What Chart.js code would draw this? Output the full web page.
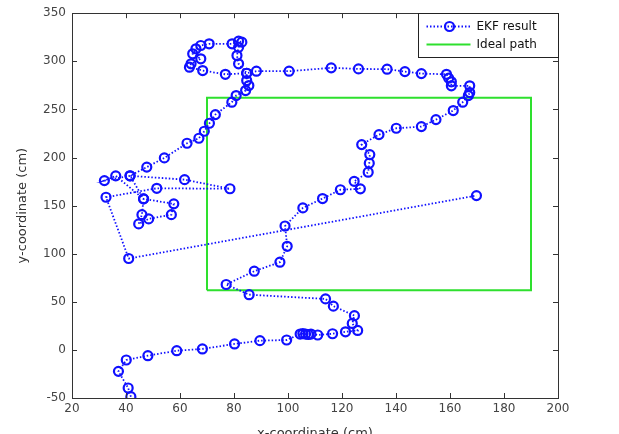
<!DOCTYPE html>
<html>
<head>
<meta charset="utf-8">
<script src="https://cdn.jsdelivr.net/npm/chart.js@4.4.1/dist/chart.umd.min.js"></script>
<style>
  html, body { margin: 0; padding: 0; background: #fff; }
  #wrap { width: 619px; height: 434px; position: relative; }
</style>
</head>
<body>
<div id="wrap"><canvas id="chart"></canvas></div>
<script>
// EKF estimated path (cm), in order along the track
const ekfX = [41.8, 40.8, 37.2, 40.1, 48.1, 58.8, 68.3, 80.2, 89.6, 99.5,
  104.5, 105.5, 106.5, 107.5, 108.5, 111, 116.5, 121.3, 125.8, 123.8,
  124.6, 116.8, 113.9, 85.6, 77.1, 87.5, 97, 99.7, 98.9, 105.5,
  112.8, 119.4, 126.8, 124.5, 129.7, 130.1, 130.3, 127.3, 133.7, 140.1,
  149.4, 154.8, 161.2, 164.7, 166.8, 167.3, 167.3, 160.5, 160.5, 159.5,
  158.7, 149.4, 143.3, 136.7, 126.1, 116, 100.4, 88.3, 84.7, 76.8,
  68.4, 63.5, 64.1, 67.7, 64.7, 65.9, 67.7, 70.8, 79.3, 81.7,
  82.9, 81.7, 81.1, 81.7, 84.7, 84.7, 85.5, 84.3, 80.8, 79.2,
  73.1, 70.9, 69, 67, 62.6, 54.2, 47.7, 41.5, 32, 36.2,
  46.5, 57.7, 56.8, 48.4, 44.7, 45.9, 46.5, 41.5, 61.7, 78.5,
  51.4, 32.6, 41, 169.8];
const ekfY = [-48.6, -39.6, -22.3, -10.5, -6, -0.8, 1, 6.2, 9.6, 10.3,
  16.5, 17, 16.5, 16, 16.5, 15.5, 16.8, 18.8, 20.2, 27.5,
  35.6, 45.5, 53, 57.4, 68, 81.8, 91.2, 107.7, 128.8, 147.6,
  157.3, 166.5, 167.4, 175.2, 184.7, 194, 203, 213.4, 223.8, 230.4,
  232.1, 239.4, 248.8, 257.5, 264.4, 267.5, 274.5, 274.5, 278.7, 282.5,
  286.5, 287.2, 289.3, 291.8, 292.1, 293.2, 289.7, 289.7, 287.6, 286.5,
  290.4, 293.9, 297.4, 302.6, 307.8, 313, 316.4, 318.2, 318.2, 320.9,
  319.9, 314.6, 306, 297.4, 287.6, 280, 274.8, 269.6, 264.4, 257.5,
  244.6, 235.6, 227.3, 220, 214.8, 199.6, 190, 181, 176, 180.9,
  157, 151.8, 140.6, 136.2, 131, 140.6, 157, 181, 177, 167.5,
  168, 158.7, 95, 160.4];

// Ideal rectangular path (cm)
const idealX = [70, 70, 190, 190, 70];
const idealY = [62, 262, 262, 62, 62];

const xTicks = [20, 40, 60, 80, 100, 120, 140, 160, 180, 200];
const yTicks = [-50, 0, 50, 100, 150, 200, 250, 300, 350];
const seriesNames = ['EKF result', 'Ideal path'];

const BLUE = '#1010ff';
const GREEN = '#2ee02e';
const FONT = "'DejaVu Sans', 'Liberation Sans', Arial, sans-serif";

// box, inward ticks (matlab style) and the legend
const framePlugin = {
  id: 'frame',
  afterDraw(chart) {
    const { ctx, chartArea: a, scales } = chart;
    ctx.save();
    ctx.strokeStyle = '#333';
    ctx.lineWidth = 1;
    ctx.strokeRect(Math.round(a.left) + 0.5, Math.round(a.top) + 0.5,
      Math.round(a.right - a.left), Math.round(a.bottom - a.top));
    const len = 5;
    ctx.beginPath();
    xTicks.forEach(v => {
      const px = Math.round(scales.x.getPixelForValue(v)) + 0.5;
      ctx.moveTo(px, a.bottom); ctx.lineTo(px, a.bottom - len);
      ctx.moveTo(px, a.top); ctx.lineTo(px, a.top + len);
    });
    yTicks.forEach(v => {
      const py = Math.round(scales.y.getPixelForValue(v)) + 0.5;
      ctx.moveTo(a.left, py); ctx.lineTo(a.left + len, py);
      ctx.moveTo(a.right, py); ctx.lineTo(a.right - len, py);
    });
    ctx.stroke();

    // legend box in the top right corner
    const w = 140, h = 44;
    const lx = Math.round(a.right - w) + 0.5, ly = Math.round(a.top) + 0.5;
    ctx.fillStyle = '#fff';
    ctx.fillRect(lx, ly, w, h);
    ctx.strokeStyle = '#222';
    ctx.strokeRect(lx, ly, w, h);

    ctx.font = '12px ' + FONT;
    ctx.textBaseline = 'middle';
    ctx.fillStyle = '#111';

    let ry = ly + 13;
    ctx.strokeStyle = BLUE;
    ctx.lineWidth = 1.8;
    ctx.setLineDash([1.5, 2]);
    ctx.beginPath(); ctx.moveTo(lx + 8, ry); ctx.lineTo(lx + 52, ry); ctx.stroke();
    ctx.setLineDash([]);
    ctx.lineWidth = 2.2;
    ctx.beginPath(); ctx.arc(lx + 31, ry, 4.5, 0, Math.PI * 2); ctx.stroke();
    ctx.fillText(seriesNames[0], lx + 58, ry);

    ry = ly + 31;
    ctx.strokeStyle = GREEN;
    ctx.lineWidth = 2;
    ctx.beginPath(); ctx.moveTo(lx + 8, ry); ctx.lineTo(lx + 52, ry); ctx.stroke();
    ctx.fillText(seriesNames[1], lx + 58, ry);
    ctx.restore();
  }
};

const ekfPoints = ekfX.map((x, i) => ({ x: x, y: ekfY[i] }));
const idealPoints = idealX.map((x, i) => ({ x: x, y: idealY[i] }));

new Chart(document.getElementById('chart'), {
  type: 'scatter',
  data: {
    datasets: [
      {
        label: seriesNames[1],
        data: idealPoints,
        showLine: true,
        borderColor: GREEN,
        borderWidth: 2,
        pointRadius: 0,
        fill: false,
        order: 2
      },
      {
        label: seriesNames[0],
        data: ekfPoints,
        showLine: true,
        borderColor: BLUE,
        borderWidth: 1.8,
        borderDash: [1.5, 2],
        pointRadius: 4.5,
        pointBorderWidth: 2.2,
        pointBorderColor: BLUE,
        pointBackgroundColor: 'rgba(255,255,255,0)',
        pointHoverRadius: 4.5,
        order: 1
      }
    ]
  },
  options: {
    responsive: true,
    maintainAspectRatio: false,
    animation: false,
    layout: { padding: { top: 11, right: 61, left: 0, bottom: 0 } },
    plugins: {
      legend: { display: false },
      tooltip: { enabled: false }
    },
    scales: {
      x: {
        type: 'linear',
        min: 20,
        max: 200,
        afterBuildTicks: s => { s.ticks = xTicks.map(v => ({ value: v })); },
        afterFit: s => { s.height = 36; },
        grid: { display: false, drawTicks: false },
        border: { display: false },
        ticks: { color: '#444', padding: 4, font: { family: FONT, size: 12 } },
        title: {
          display: true,
          text: 'x-coordinate (cm)',
          color: '#333',
          font: { family: FONT, size: 13 },
          padding: { top: 0, bottom: -7 }
        }
      },
      y: {
        type: 'linear',
        min: -50,
        max: 350,
        afterBuildTicks: s => { s.ticks = yTicks.map(v => ({ value: v })); },
        afterFit: s => { s.width = 72; },
        grid: { display: false, drawTicks: false },
        border: { display: false },
        ticks: { color: '#444', padding: 6, font: { family: FONT, size: 12 } },
        title: {
          display: true,
          text: 'y-coordinate (cm)',
          color: '#333',
          font: { family: FONT, size: 13 },
          padding: { top: 15, bottom: 0 }
        }
      }
    }
  },
  plugins: [framePlugin]
});
</script>
</body>
</html>
